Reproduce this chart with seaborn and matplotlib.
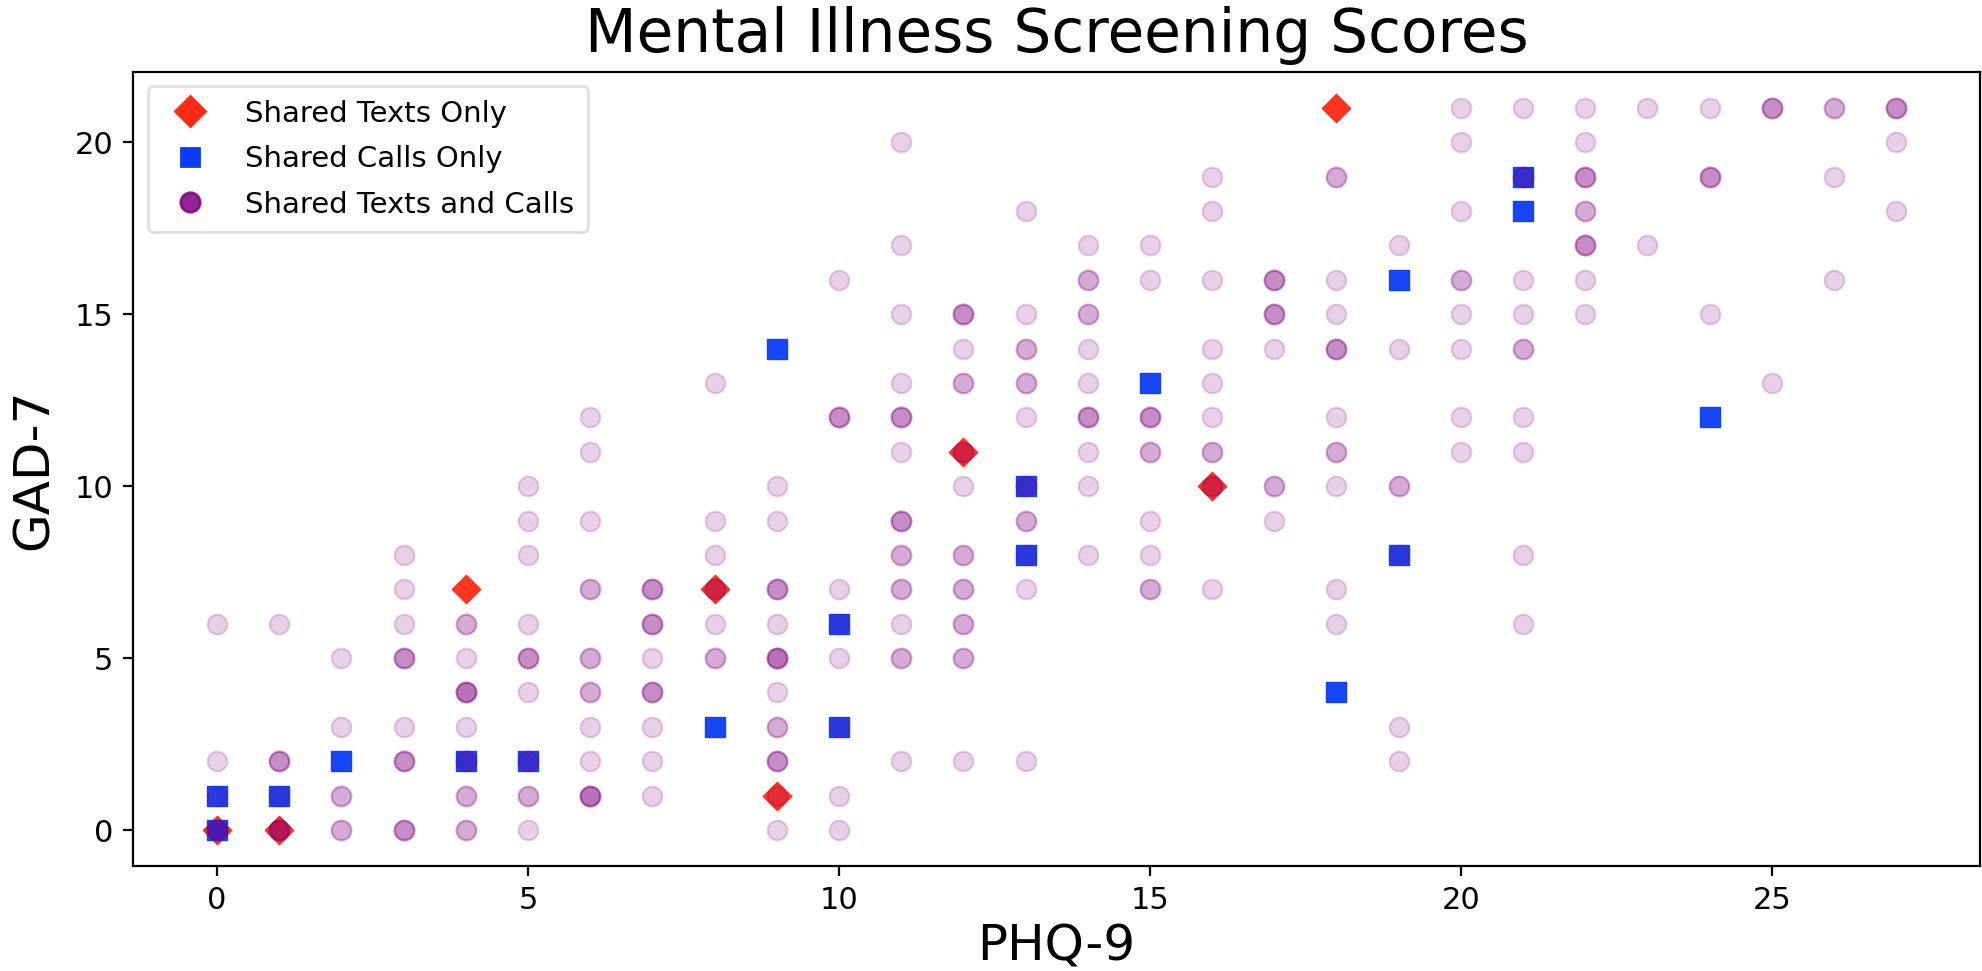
import numpy as np
import pandas as pd
import matplotlib
matplotlib.use("Agg")
import matplotlib.pyplot as plt
import seaborn as sns
from matplotlib.lines import Line2D

# PHQ-9 / GAD-7 score pairs
texts_x = [0, 1, 4, 8, 9, 12, 16, 18]
texts_y = [0, 0, 7, 7, 1, 11, 10, 21]

calls_x = [0, 0, 1, 2, 4, 5, 8, 9, 10, 10, 13, 13, 15, 18, 19, 19, 21, 21, 24]
calls_y = [0, 1, 1, 2, 2, 2, 3, 14, 6, 3, 10, 8, 13, 4, 16, 8, 19, 18, 12]

# shared texts and calls: (phq, gad, number of participants at that point)
both_x = [0, 0, 0, 0,
          1, 1, 1, 1,
          2, 2, 2, 2,
          3, 3, 3, 3, 3, 3, 3,
          4, 4, 4, 4, 4, 4, 4,
          5, 5, 5, 5, 5, 5, 5, 5, 5,
          6, 6, 6, 6, 6, 6, 6, 6, 6,
          7, 7, 7, 7, 7, 7, 7,
          8, 8, 8, 8, 8, 8,
          9, 9, 9, 9, 9, 9, 9, 9, 9, 9,
          10, 10, 10, 10, 10, 10, 10, 10,
          11, 11, 11, 11, 11, 11, 11, 11, 11, 11, 11, 11,
          12, 12, 12, 12, 12, 12, 12, 12, 12, 12,
          13, 13, 13, 13, 13, 13, 13, 13, 13, 13,
          14, 14, 14, 14, 14, 14, 14, 14, 14,
          15, 15, 15, 15, 15, 15, 15,
          16, 16, 16, 16, 16, 16, 16, 16, 16,
          17, 17, 17, 17, 17,
          18, 18, 18, 18, 18, 18, 18, 18, 18,
          19, 19, 19, 19, 19, 19,
          20, 20, 20, 20, 20, 20, 20, 20,
          21, 21, 21, 21, 21, 21, 21, 21, 21,
          22, 22, 22, 22, 22, 22, 22,
          23, 23,
          24, 24, 24,
          25, 25,
          26, 26, 26,
          27, 27, 27]
both_y = [6, 2, 1, 0,
          6, 2, 1, 0,
          5, 3, 1, 0,
          8, 7, 6, 5, 3, 2, 0,
          6, 5, 4, 3, 2, 1, 0,
          10, 9, 8, 6, 5, 4, 2, 1, 0,
          12, 11, 9, 7, 5, 4, 3, 2, 1,
          7, 6, 5, 4, 3, 2, 1,
          13, 9, 8, 7, 6, 5,
          10, 9, 7, 6, 5, 4, 3, 2, 1, 0,
          16, 12, 7, 6, 5, 3, 1, 0,
          20, 17, 15, 13, 12, 11, 9, 8, 7, 6, 5, 2,
          15, 14, 13, 11, 10, 8, 7, 6, 5, 2,
          18, 15, 14, 13, 12, 10, 9, 8, 7, 2,
          17, 16, 15, 14, 13, 12, 11, 10, 8,
          17, 16, 12, 11, 9, 8, 7,
          19, 18, 16, 14, 13, 12, 11, 10, 7,
          16, 15, 14, 10, 9,
          19, 16, 15, 14, 12, 11, 10, 7, 6,
          17, 14, 10, 8, 3, 2,
          21, 20, 18, 16, 15, 14, 12, 11,
          21, 19, 16, 15, 14, 12, 11, 8, 6,
          21, 20, 19, 18, 17, 16, 15,
          21, 17,
          21, 19, 15,
          21, 13,
          21, 19, 16,
          21, 20, 18]
both_n = [1, 1, 1, 4,
          1, 3, 1, 4,
          1, 1, 2, 2,
          1, 1, 1, 3, 1, 3, 3,
          2, 1, 4, 1, 2, 2, 2,
          1, 1, 1, 1, 3, 1, 2, 2, 1,
          1, 1, 1, 2, 2, 2, 1, 1, 4,
          3, 3, 1, 3, 1, 1, 1,
          1, 1, 1, 2, 1, 2,
          1, 1, 3, 1, 4, 1, 2, 3, 1, 1,
          1, 3, 1, 1, 1, 1, 1, 1,
          1, 1, 1, 1, 3, 1, 3, 2, 2, 1, 2, 1,
          3, 1, 2, 2, 1, 2, 2, 2, 2, 1,
          1, 1, 2, 2, 1, 2, 2, 1, 1, 1,
          1, 2, 2, 1, 1, 3, 1, 1, 1,
          1, 1, 3, 2, 1, 1, 2,
          1, 1, 1, 1, 1, 1, 2, 2, 1,
          3, 3, 1, 2, 1,
          2, 1, 1, 3, 1, 2, 1, 1, 1,
          1, 1, 2, 1, 1, 1,
          1, 1, 1, 2, 1, 1, 1, 1,
          1, 2, 1, 1, 2, 1, 1, 1, 1,
          1, 1, 3, 2, 3, 1, 1,
          1, 1,
          1, 3, 1,
          3, 1,
          2, 1, 1,
          3, 1, 1]

RED = "#ff2a14"
BLUE = "#0a3cf5"
PURPLE = "#800080"

both = pd.DataFrame({"phq": both_x, "gad": both_y, "n": both_n})
both = both.loc[both.index.repeat(both["n"])]

fig = plt.figure(figsize=(9.91, 4.855), dpi=200)
ax = fig.add_axes([0.0671, 0.108, 0.932, 0.818])

sns.scatterplot(x=texts_x, y=texts_y, marker="D", color=RED, edgecolor=RED,
                linewidth=0.5, s=52, alpha=0.95, ax=ax)
sns.scatterplot(x=calls_x, y=calls_y, marker="s", color=BLUE, edgecolor=BLUE,
                linewidth=0.5, s=52, alpha=0.95, ax=ax)
sns.scatterplot(data=both, x="phq", y="gad", marker="o", color=PURPLE,
                edgecolor=PURPLE, linewidth=0.8, s=50, alpha=0.18, ax=ax)

handles = [
    Line2D([], [], linestyle="", marker="D", markersize=7.5, color=RED),
    Line2D([], [], linestyle="", marker="s", markersize=6.5, color=BLUE),
    Line2D([], [], linestyle="", marker="o", markersize=7, color=PURPLE, alpha=0.85),
]
labels = ["Shared Texts Only", "Shared Calls Only", "Shared Texts and Calls"]
leg = ax.legend(handles, labels, loc="upper left", fontsize=10.5, labelspacing=0.6,
                borderpad=0.45, handletextpad=0.9)
leg.get_frame().set_edgecolor("#d8d8d8")

ax.set_title("Mental Illness Screening Scores", fontsize=21.5, pad=7)
ax.set_xlabel("PHQ-9", fontsize=18, labelpad=3)
ax.set_ylabel("GAD-7", fontsize=18, labelpad=6)
ax.set_xticks([0, 5, 10, 15, 20, 25])
ax.set_yticks([0, 5, 10, 15, 20])
ax.tick_params(labelsize=11)

fig.savefig("out.png", dpi=200)
